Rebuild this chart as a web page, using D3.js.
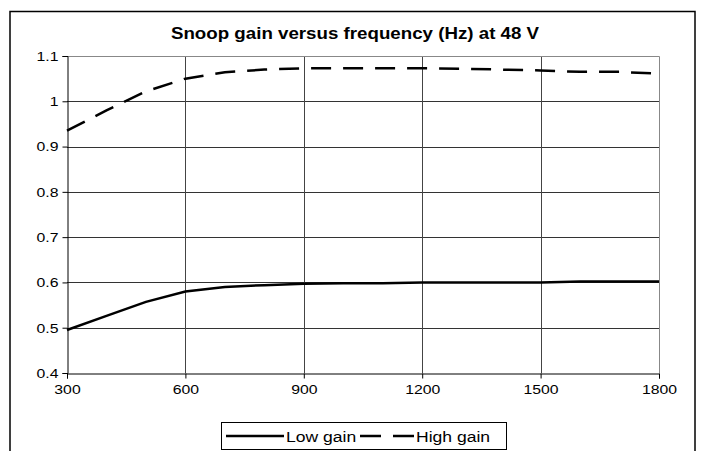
<!DOCTYPE html>
<html lang="en">
<head>
    <meta charset="UTF-8">
    <title>Snoop gain versus frequency</title>
    <script src="https://d3js.org/d3.v7.min.js"></script>
    <style>
        body { margin: 0; background: #fff; }
        text { font-family: "Liberation Sans", Arial, sans-serif; fill: #000; }
    </style>
</head>
<body>
    <svg width="702" height="451" id="chart"></svg>

    <script>
        // data
        const freqs = [300, 400, 500, 600, 700, 800, 900, 1000, 1100, 1200, 1300, 1400, 1500, 1600, 1700, 1800];
        const lowGain = [0.495, 0.526, 0.557, 0.580, 0.590, 0.594, 0.597, 0.598, 0.598, 0.600, 0.600, 0.600, 0.600, 0.602, 0.602, 0.602];
        const highGain = [0.935, 0.980, 1.022, 1.050, 1.064, 1.070, 1.073, 1.073, 1.073, 1.073, 1.072, 1.070, 1.068, 1.065, 1.065, 1.061];
        const xTicks = [300, 600, 900, 1200, 1500, 1800];
        const yTicks = [0.4, 0.5, 0.6, 0.7, 0.8, 0.9, 1, 1.1];
        const seriesNames = ["Low gain", "High gain"];

        const plot = { left: 67, right: 659, top: 56, bottom: 373 };
        const sx = 1.17; // text in the original is a bit wide

        const svg = d3.select("#chart");

        // outer chart border
        svg.append("rect")
            .attr("x", 10).attr("y", 11.5)
            .attr("width", 685).attr("height", 460)
            .attr("fill", "none")
            .attr("stroke", "#000")
            .attr("stroke-width", 1.5);

        const x = d3.scaleLinear().domain([300, 1800]).range([plot.left, plot.right]);
        const y = d3.scaleLinear().domain([0.4, 1.1]).range([plot.bottom, plot.top]);

        // gridlines
        svg.append("g").selectAll("line")
            .data(yTicks.slice(1, -1))
            .join("line")
            .attr("x1", plot.left).attr("x2", plot.right)
            .attr("y1", d => Math.round(y(d)) + 0.5).attr("y2", d => Math.round(y(d)) + 0.5)
            .attr("stroke", "#333");
        svg.append("g").selectAll("line")
            .data(xTicks.slice(1, -1))
            .join("line")
            .attr("x1", d => Math.round(x(d)) + 0.5).attr("x2", d => Math.round(x(d)) + 0.5)
            .attr("y1", plot.top).attr("y2", plot.bottom)
            .attr("stroke", "#444");

        // plot area top/right border (grey)
        svg.append("path")
            .attr("d", `M${plot.left},${plot.top + 0.5}H${plot.right + 0.5}V${plot.bottom}`)
            .attr("fill", "none")
            .attr("stroke", "#888");

        //axes
        const yAxis = svg.append("g")
            .attr("transform", `translate(${plot.left + 0.5},0)`)
            .call(d3.axisLeft(y).tickValues(yTicks).tickSize(5).tickPadding(4).tickFormat(d => String(d)));
        const xAxis = svg.append("g")
            .attr("transform", `translate(0,${plot.bottom + 0.5})`)
            .call(d3.axisBottom(x).tickValues(xTicks).tickSize(5).tickPadding(6).tickFormat(d => String(d)));

        [yAxis, xAxis].forEach(a => {
            a.select(".domain").attr("stroke", "#000");
            a.selectAll(".tick line").attr("stroke", "#000");
            a.selectAll(".tick text")
                .attr("font-family", "Liberation Sans, Arial, sans-serif")
                .attr("font-size", 13.5)
                .attr("fill", "#000");
        });
        yAxis.selectAll(".tick text")
            .attr("x", -9 / sx)
            .attr("transform", `scale(${sx},1)`);
        xAxis.selectAll(".tick text")
            .attr("transform", `scale(${sx},1)`);

        // lines
        const line = d3.line()
            .x((d, i) => x(freqs[i]))
            .y(d => y(d));

        svg.append("path")
            .datum(lowGain)
            .attr("d", line)
            .attr("fill", "none")
            .attr("stroke", "#000")
            .attr("stroke-width", 2.5);

        svg.append("path")
            .datum(highGain)
            .attr("d", line)
            .attr("fill", "none")
            .attr("stroke", "#000")
            .attr("stroke-width", 2.5)
            .attr("stroke-dasharray", "20,12");

        // title
        svg.append("text")
            .attr("transform", `translate(355,39) scale(${sx},1)`)
            .attr("text-anchor", "middle")
            .attr("font-size", 16)
            .attr("font-weight", "bold")
            .text("Snoop gain versus frequency (Hz) at 48 V");

        // legend
        const legend = svg.append("g");
        legend.append("rect")
            .attr("x", 221.5).attr("y", 422.5)
            .attr("width", 285).attr("height", 27)
            .attr("fill", "#fff")
            .attr("stroke", "#000");

        const legendItems = [
            { name: seriesNames[0], x0: 226, len: 58, dash: null },
            { name: seriesNames[1], x0: 360, len: 54, dash: "21,12" }
        ];
        legendItems.forEach(it => {
            legend.append("line")
                .attr("x1", it.x0).attr("x2", it.x0 + it.len)
                .attr("y1", 436).attr("y2", 436)
                .attr("stroke", "#000")
                .attr("stroke-width", 2.5)
                .attr("stroke-dasharray", it.dash);
            legend.append("text")
                .attr("transform", `translate(${it.x0 + it.len + 2},441.5) scale(${sx},1)`)
                .attr("font-size", 15)
                .text(it.name);
        });
    </script>
</body>
</html>
